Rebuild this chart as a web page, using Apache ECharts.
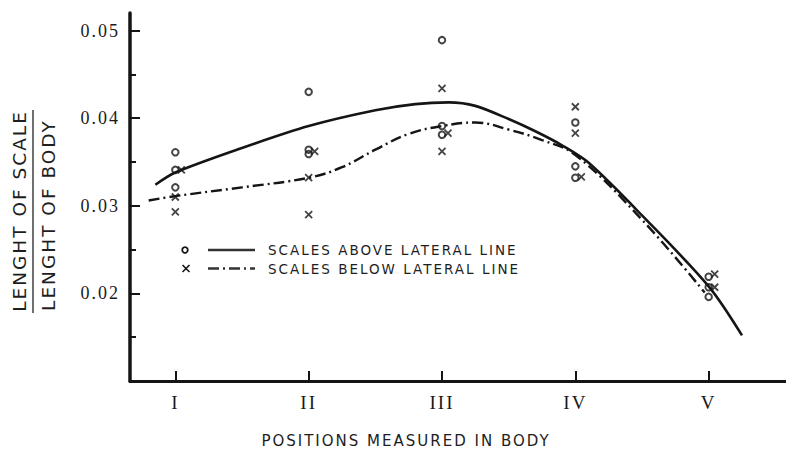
<!DOCTYPE html>
<html>
<head>
<meta charset="utf-8">
<script src="https://cdn.jsdelivr.net/npm/echarts@6/dist/echarts.min.js"></script>
<style>
  html, body { margin: 0; padding: 0; background: #fff; }
  #chart { width: 786px; height: 453px; }
  #chart text { letter-spacing: 2px; }
</style>
</head>
<body>
<div id="chart"></div>
<script>
// Body positions along the fish (x = 1..5)
const positions = ['I', 'II', 'III', 'IV', 'V'];
const positionValues = [1, 2, 3, 4, 5];

// Ratio axis ticks
const yMajorTicks = [0.01, 0.02, 0.03, 0.04, 0.05];
const yMinorTicks = [0.015, 0.025, 0.035, 0.045];
const yTickLabels = ['0.02', '0.03', '0.04', '0.05'];
const yLabelValues = [0.02, 0.03, 0.04, 0.05];

// Measured ratios: scales above the lateral line (o)
const aboveDots = [
  [1, 0.0361], [1, 0.0341], [1, 0.0321],
  [2, 0.0430], [2, 0.0364], [2, 0.0359],
  [3, 0.0489], [3, 0.0391], [3, 0.0381],
  [4, 0.0395], [4, 0.0345], [4, 0.0332],
  [5, 0.0219], [5, 0.0207], [5, 0.0196]
];

// Measured ratios: scales below the lateral line (x)
const belowDots = [
  [1, 0.0341], [1, 0.0310], [1, 0.0293],
  [2, 0.0362], [2, 0.0332], [2, 0.0290],
  [3, 0.0434], [3, 0.0383], [3, 0.0362],
  [4, 0.0413], [4, 0.0383], [4, 0.0333],
  [5, 0.0222], [5, 0.0207]
];

// Fitted trend, above the lateral line (solid)
const aboveCurve = [
  [0.85, 0.0324], [1, 0.0338], [1.5, 0.0366], [2, 0.0391], [2.5, 0.0409],
  [2.8, 0.0416], [3.05, 0.0418], [3.25, 0.0414], [3.5, 0.0399], [3.7, 0.0385],
  [3.9, 0.0369], [4.1, 0.0349], [4.5, 0.0289], [5, 0.0208], [5.25, 0.0152]
];

// Fitted trend, below the lateral line (dash-dot)
const belowCurve = [
  [0.8, 0.0306], [1, 0.0311], [1.5, 0.0321], [2, 0.0332], [2.25, 0.0344],
  [2.5, 0.0364], [2.75, 0.0382], [3, 0.0391], [3.25, 0.0395], [3.5, 0.0387],
  [3.75, 0.0375], [4, 0.0358], [4.5, 0.0284], [4.97, 0.0201]
];

const ink = '#151515';
const crossPath = 'path://M0,0L10,10M10,0L0,10';
const sansFont = '"DejaVu Sans"';

// nudge a cross sideways when it shares its spot with a circle
function crossData() {
  return belowDots.map(function (p) {
    const shared = aboveDots.some(function (q) {
      return q[0] === p[0] && Math.abs(q[1] - p[1]) < 0.0004;
    });
    return shared ? { value: p, symbolOffset: [6, 0] } : { value: p };
  });
}

const chart = echarts.init(document.getElementById('chart'), null, { renderer: 'svg' });

chart.setOption({
  animation: false,
  backgroundColor: '#ffffff',
  grid: { left: 130, right: 0, top: 13, bottom: 72 },
  xAxis: {
    type: 'value',
    min: 0.66,
    max: 5.58,
    splitLine: { show: false },
    axisLine: { onZero: false, lineStyle: { color: ink, width: 3 } },
    axisTick: {
      inside: true, length: 10, customValues: positionValues,
      lineStyle: { color: ink, width: 2 }
    },
    axisLabel: {
      customValues: positionValues,
      formatter: function (v) { return positions[Math.round(v) - 1]; },
      fontFamily: 'Liberation Serif', fontSize: 19, color: '#1a1a1a', margin: 12
    }
  },
  yAxis: [
    {
      type: 'value',
      position: 'left',
      min: 0.01,
      max: 0.052,
      splitLine: { show: false },
      axisLine: { onZero: false, lineStyle: { color: ink, width: 3.5 } },
      axisTick: {
        inside: true, length: 10, customValues: yMajorTicks,
        lineStyle: { color: ink, width: 2 }
      },
      axisLabel: {
        customValues: yLabelValues,
        formatter: function (v) {
          const i = yLabelValues.findIndex(function (t) { return Math.abs(t - v) < 1e-6; });
          return i < 0 ? '' : yTickLabels[i];
        },
        fontFamily: 'Liberation Serif', fontSize: 18, color: '#1a1a1a', margin: 10
      }
    },
    {
      type: 'value',
      position: 'left',
      min: 0.01,
      max: 0.052,
      splitLine: { show: false },
      axisLine: { show: false },
      axisTick: {
        inside: true, length: 6, customValues: yMinorTicks,
        lineStyle: { color: ink, width: 2 }
      },
      axisLabel: { show: false }
    }
  ],
  series: [
    {
      name: 'SCALES ABOVE LATERAL LINE',
      type: 'line',
      data: aboveCurve,
      smooth: 0.3,
      showSymbol: false,
      symbol: 'none',
      lineStyle: { color: ink, width: 2.6 },
      z: 2
    },
    {
      name: 'SCALES BELOW LATERAL LINE',
      type: 'line',
      data: belowCurve,
      smooth: 0.4,
      showSymbol: false,
      symbol: 'none',
      lineStyle: { color: ink, width: 2.4, type: [11, 4, 2, 4] },
      z: 2
    },
    {
      type: 'scatter',
      data: aboveDots,
      symbol: 'circle',
      symbolSize: 6.5,
      itemStyle: { color: 'rgba(255,255,255,0)', borderColor: ink, borderWidth: 2 },
      z: 3
    },
    {
      type: 'scatter',
      data: crossData(),
      symbol: crossPath,
      symbolSize: 7,
      itemStyle: { color: 'none', borderColor: ink, borderWidth: 1.8 },
      z: 3
    }
  ],
  graphic: [
    // ratio axis title, written as a fraction
    {
      type: 'text', x: 19, y: 211, rotation: Math.PI / 2,
      style: {
        text: 'LENGHT OF SCALE', fill: '#1e1e1e',
        font: 'normal 18.5px ' + sansFont, textAlign: 'center', textVerticalAlign: 'middle'
      }
    },
    {
      type: 'line',
      shape: { x1: 33, y1: 110, x2: 33, y2: 313 },
      style: { stroke: '#333', lineWidth: 1.4 }
    },
    {
      type: 'text', x: 48, y: 215, rotation: Math.PI / 2,
      style: {
        text: 'LENGHT OF BODY', fill: '#1e1e1e',
        font: 'normal 18.5px ' + sansFont, textAlign: 'center', textVerticalAlign: 'middle'
      }
    },
    // position axis title
    {
      type: 'text', x: 406, y: 441,
      style: {
        text: 'POSITIONS MEASURED IN BODY', fill: '#1e1e1e',
        font: 'normal 15px ' + sansFont, textAlign: 'center', textVerticalAlign: 'middle'
      }
    },
    // key
    {
      type: 'circle', shape: { cx: 185, cy: 250, r: 2.8 },
      style: { fill: 'none', stroke: ink, lineWidth: 1.8 }
    },
    {
      type: 'line', shape: { x1: 208, y1: 250, x2: 255, y2: 250 },
      style: { stroke: '#333', lineWidth: 2.6 }
    },
    {
      type: 'text', x: 268, y: 250,
      style: {
        text: 'SCALES ABOVE LATERAL LINE', fill: '#1e1e1e',
        font: 'normal 13.5px ' + sansFont, textAlign: 'left', textVerticalAlign: 'middle'
      }
    },
    {
      type: 'line', shape: { x1: 182.5, y1: 265, x2: 189.5, y2: 272 },
      style: { stroke: ink, lineWidth: 1.6 }
    },
    {
      type: 'line', shape: { x1: 189.5, y1: 265, x2: 182.5, y2: 272 },
      style: { stroke: ink, lineWidth: 1.6 }
    },
    {
      type: 'line', shape: { x1: 208, y1: 268.5, x2: 255, y2: 268.5 },
      style: { stroke: '#333', lineWidth: 2.6, lineDash: [11, 4, 2, 4] }
    },
    {
      type: 'text', x: 268, y: 269,
      style: {
        text: 'SCALES BELOW LATERAL LINE', fill: '#1e1e1e',
        font: 'normal 13.5px ' + sansFont, textAlign: 'left', textVerticalAlign: 'middle'
      }
    }
  ]
});
</script>
</body>
</html>
